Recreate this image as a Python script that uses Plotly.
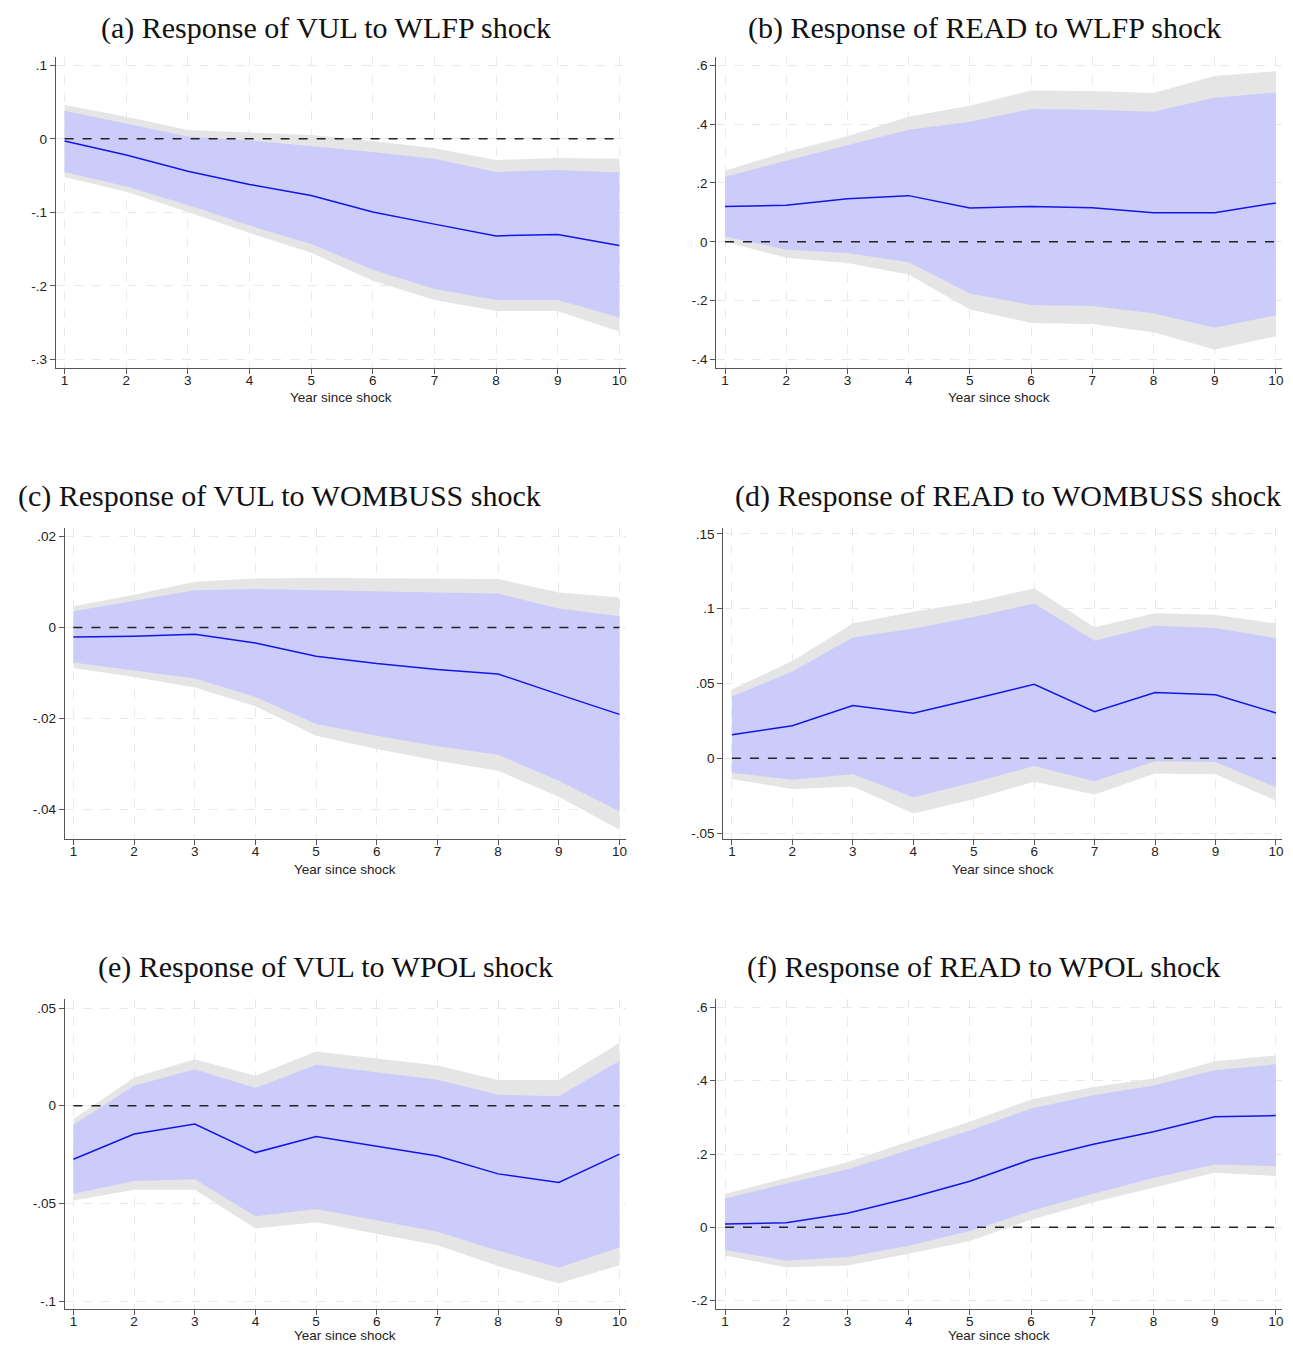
import plotly.graph_objects as go

# Page body has an 8px margin: the figure is sized so the page never overflows
OFF = 8
W, H = 1293 - 2 * OFF, 1350 - 2 * OFF
years = [1, 2, 3, 4, 5, 6, 7, 8, 9, 10]
x_ticks = [1, 2, 3, 4, 5, 6, 7, 8, 9, 10]

# ---- (a) VUL to WLFP ----
a_title = "(a) Response of VUL to WLFP shock"
a_irf = [-0.003, -0.022, -0.044, -0.062, -0.077, -0.0995, -0.116, -0.132, -0.130, -0.145]
a_o_hi = [0.046, 0.030, 0.012, 0.008, 0.005, -0.003, -0.013, -0.029, -0.026, -0.027]
a_i_hi = [0.038, 0.021, 0.003, -0.002, -0.0095, -0.018, -0.027, -0.045, -0.0425, -0.046]
a_i_lo = [-0.045, -0.065, -0.090, -0.118, -0.143, -0.178, -0.204, -0.219, -0.219, -0.243]
a_o_lo = [-0.052, -0.072, -0.0995, -0.128, -0.155, -0.193, -0.219, -0.234, -0.234, -0.262]
a_yticks = [0.1, 0, -0.1, -0.2, -0.3]
a_ylabels = [".1", "0", "-.1", "-.2", "-.3"]

# ---- (b) READ to WLFP ----
b_title = "(b) Response of READ to WLFP shock"
b_irf = [0.120, 0.124, 0.146, 0.157, 0.115, 0.120, 0.116, 0.099, 0.099, 0.132]
b_o_hi = [0.242, 0.305, 0.359, 0.425, 0.463, 0.515, 0.513, 0.506, 0.564, 0.580]
b_i_hi = [0.221, 0.276, 0.328, 0.381, 0.408, 0.452, 0.449, 0.442, 0.490, 0.508]
b_i_lo = [0.018, -0.027, -0.038, -0.070, -0.176, -0.215, -0.218, -0.243, -0.292, -0.250]
b_o_lo = [0.000, -0.054, -0.072, -0.111, -0.230, -0.276, -0.280, -0.308, -0.366, -0.321]
b_yticks = [0.6, 0.4, 0.2, 0, -0.2, -0.4]
b_ylabels = [".6", ".4", ".2", "0", "-.2", "-.4"]

# ---- (c) VUL to WOMBUSS ----
c_title = "(c) Response of VUL to WOMBUSS shock"
c_irf = [-0.0021, -0.0019, -0.0015, -0.0034, -0.0063, -0.0079, -0.0092, -0.0102, -0.0147, -0.0191]
c_o_hi = [0.0047, 0.0072, 0.0101, 0.0108, 0.0109, 0.0108, 0.0107, 0.0107, 0.0077, 0.0066]
c_i_hi = [0.0036, 0.0059, 0.0082, 0.0085, 0.0082, 0.0080, 0.0077, 0.0075, 0.0042, 0.0025]
c_i_lo = [-0.0077, -0.0095, -0.0112, -0.0153, -0.0212, -0.0238, -0.0261, -0.0280, -0.0337, -0.0404]
c_o_lo = [-0.0089, -0.0109, -0.0132, -0.0173, -0.0238, -0.0267, -0.0293, -0.0315, -0.0372, -0.0445]
c_yticks = [0.02, 0, -0.02, -0.04]
c_ylabels = [".02", "0", "-.02", "-.04"]

# ---- (d) READ to WOMBUSS ----
d_title = "(d) Response of READ to WOMBUSS shock"
d_irf = [0.0158, 0.0217, 0.0353, 0.0301, 0.0396, 0.0495, 0.0312, 0.0439, 0.0425, 0.0303]
d_o_hi = [0.046, 0.065, 0.090, 0.098, 0.1045, 0.1136, 0.0876, 0.097, 0.096, 0.090]
d_i_hi = [0.0414, 0.058, 0.0808, 0.0867, 0.0944, 0.1034, 0.0785, 0.0885, 0.087, 0.0803]
d_i_lo = [-0.0097, -0.0143, -0.0106, -0.026, -0.016, -0.0052, -0.0154, -0.002, -0.0025, -0.0192]
d_o_lo = [-0.0138, -0.0206, -0.0188, -0.0369, -0.0274, -0.0156, -0.0242, -0.0102, -0.0106, -0.0283]
d_yticks = [0.15, 0.1, 0.05, 0, -0.05]
d_ylabels = [".15", ".1", ".05", "0", "-.05"]

# ---- (e) VUL to WPOL ----
e_title = "(e) Response of VUL to WPOL shock"
e_irf = [-0.0274, -0.0145, -0.0094, -0.024, -0.0158, -0.0206, -0.0257, -0.0349, -0.0393, -0.0248]
e_o_hi = [-0.0068, 0.0145, 0.0238, 0.0153, 0.0277, 0.0243, 0.0206, 0.0131, 0.0131, 0.0321]
e_i_hi = [-0.0097, 0.0102, 0.0187, 0.009, 0.0209, 0.017, 0.0133, 0.0056, 0.0049, 0.023]
e_i_lo = [-0.0451, -0.0386, -0.0376, -0.0566, -0.0529, -0.0587, -0.0645, -0.0743, -0.0828, -0.0726]
e_o_lo = [-0.0485, -0.043, -0.043, -0.0629, -0.0597, -0.0655, -0.0714, -0.0821, -0.091, -0.0816]
e_yticks = [0.05, 0, -0.05, -0.1]
e_ylabels = [".05", "0", "-.05", "-.1"]

# ---- (f) READ to WPOL ----
f_title = "(f) Response of READ to WPOL shock"
f_irf = [0.009, 0.0126, 0.0388, 0.0795, 0.126, 0.185, 0.226, 0.261, 0.302, 0.305]
f_o_hi = [0.091, 0.1345, 0.178, 0.234, 0.288, 0.349, 0.382, 0.406, 0.453, 0.469]
f_i_hi = [0.0786, 0.120, 0.158, 0.212, 0.2646, 0.324, 0.360, 0.387, 0.429, 0.445]
f_i_lo = [-0.062, -0.091, -0.081, -0.050, -0.010, 0.045, 0.091, 0.1345, 0.1715, 0.167]
f_o_lo = [-0.077, -0.109, -0.104, -0.072, -0.037, 0.0208, 0.0677, 0.108, 0.149, 0.140]
f_yticks = [0.6, 0.4, 0.2, 0, -0.2]
f_ylabels = [".6", ".4", ".2", "0", "-.2"]

x_title = "Year since shock"

# layout in screen pixels: (x0, x1, ytop, ybottom), y range, title centre, x-title y
panels = [
    (a_title, a_irf, a_o_hi, a_i_hi, a_i_lo, a_o_lo, a_yticks, a_ylabels,
     (56, 626, 55, 367), (-0.3114, 0.1113), (326, 26), 397),
    (b_title, b_irf, b_o_hi, b_i_hi, b_i_lo, b_o_lo, b_yticks, b_ylabels,
     (717, 1283, 55, 367), (-0.429, 0.629), (985, 26), 397),
    (c_title, c_irf, c_o_hi, c_i_hi, c_i_lo, c_o_lo, c_yticks, c_ylabels,
     (65, 626, 528, 839), (-0.0464, 0.0218), (280, 495), 870),
    (d_title, d_irf, d_o_hi, d_i_hi, d_i_lo, d_o_lo, d_yticks, d_ylabels,
     (724, 1283, 528, 839), (-0.0536, 0.1536), (1009, 495), 870),
    (e_title, e_irf, e_o_hi, e_i_hi, e_i_lo, e_o_lo, e_yticks, e_ylabels,
     (65, 626, 1000, 1311), (-0.1041, 0.0546), (326, 968), 1337),
    (f_title, f_irf, f_o_hi, f_i_hi, f_i_lo, f_o_lo, f_yticks, f_ylabels,
     (717, 1283, 1000, 1311), (-0.223, 0.623), (984, 968), 1337),
]

GREY = "#e5e5e5"
BLUE_BAND = "#ccccfb"
LINE_BLUE = "#1414e6"
AXIS_COL = "#555555"
GRID_COL = "#e9e9e9"
TICK_FONT = dict(family="Liberation Sans, Arial, sans-serif", size=13.5, color="#222222")


def px_x(v):
    return (v - OFF) / W


def px_y(v):
    return 1 - (v - OFF) / H


fig = go.Figure()
annotations = []
layout_axes = {}

for i, (title, irf, o_hi, i_hi, i_lo, o_lo, yt, yl, box, yr, tpos, xt_y) in enumerate(panels):
    n = i + 1
    xa = "x" if n == 1 else f"x{n}"
    ya = "y" if n == 1 else f"y{n}"
    common = dict(xaxis=xa, yaxis=ya, showlegend=False, hoverinfo="skip")
    # outer (grey) band
    fig.add_trace(go.Scatter(x=years, y=o_lo, mode="lines", line=dict(width=0, color=GREY), **common))
    fig.add_trace(go.Scatter(x=years, y=o_hi, mode="lines", line=dict(width=0, color=GREY),
                             fill="tonexty", fillcolor=GREY, **common))
    # inner (blue) band
    fig.add_trace(go.Scatter(x=years, y=i_lo, mode="lines", line=dict(width=0, color=BLUE_BAND), **common))
    fig.add_trace(go.Scatter(x=years, y=i_hi, mode="lines", line=dict(width=0, color=BLUE_BAND),
                             fill="tonexty", fillcolor=BLUE_BAND, **common))
    # zero reference line
    fig.add_trace(go.Scatter(x=[years[0], years[-1]], y=[0, 0], mode="lines",
                             line=dict(color="#222222", width=1.5, dash="dash"), **common))
    # IRF
    fig.add_trace(go.Scatter(x=years, y=irf, mode="lines",
                             line=dict(color=LINE_BLUE, width=1.5), **common))

    x0, x1, yt0, yb0 = box
    xkey = "xaxis" if n == 1 else f"xaxis{n}"
    ykey = "yaxis" if n == 1 else f"yaxis{n}"
    layout_axes[xkey] = dict(
        domain=[px_x(x0), px_x(x1)], anchor=ya, range=[0.86, 10.1],
        tickmode="array", tickvals=x_ticks, ticktext=[str(v) for v in x_ticks],
        showline=True, linecolor=AXIS_COL, linewidth=1.3,
        ticks="outside", ticklen=5, tickcolor=AXIS_COL, tickwidth=1.2,
        ticklabelstandoff=-5,
        showgrid=True, gridcolor=GRID_COL, griddash="dash", gridwidth=1,
        zeroline=False, tickfont=TICK_FONT,
    )
    layout_axes[ykey] = dict(
        domain=[px_y(yb0), px_y(yt0)], anchor=xa, range=list(yr),
        tickmode="array", tickvals=yt, ticktext=yl,
        showline=True, linecolor=AXIS_COL, linewidth=1.3,
        ticks="outside", ticklen=5, tickcolor=AXIS_COL, tickwidth=1.2,
        showgrid=True, gridcolor=GRID_COL, griddash="dash", gridwidth=1,
        zeroline=False, tickfont=TICK_FONT, tickangle=0,
    )
    annotations.append(dict(
        text=title, x=px_x(tpos[0]), y=px_y(tpos[1]), xref="paper", yref="paper",
        xanchor="center", yanchor="middle", showarrow=False,
        font=dict(family="Liberation Serif, Times New Roman, serif", size=30, color="#111111"),
    ))
    annotations.append(dict(
        text=x_title, x=px_x((x0 + x1) / 2), y=px_y(xt_y), xref="paper", yref="paper",
        xanchor="center", yanchor="middle", showarrow=False, font=TICK_FONT,
    ))

fig.update_layout(
    width=W, height=H,
    margin=dict(l=0, r=0, t=0, b=0),
    paper_bgcolor="white", plot_bgcolor="white",
    annotations=annotations,
    **layout_axes,
)

fig.write_html("out.html")
